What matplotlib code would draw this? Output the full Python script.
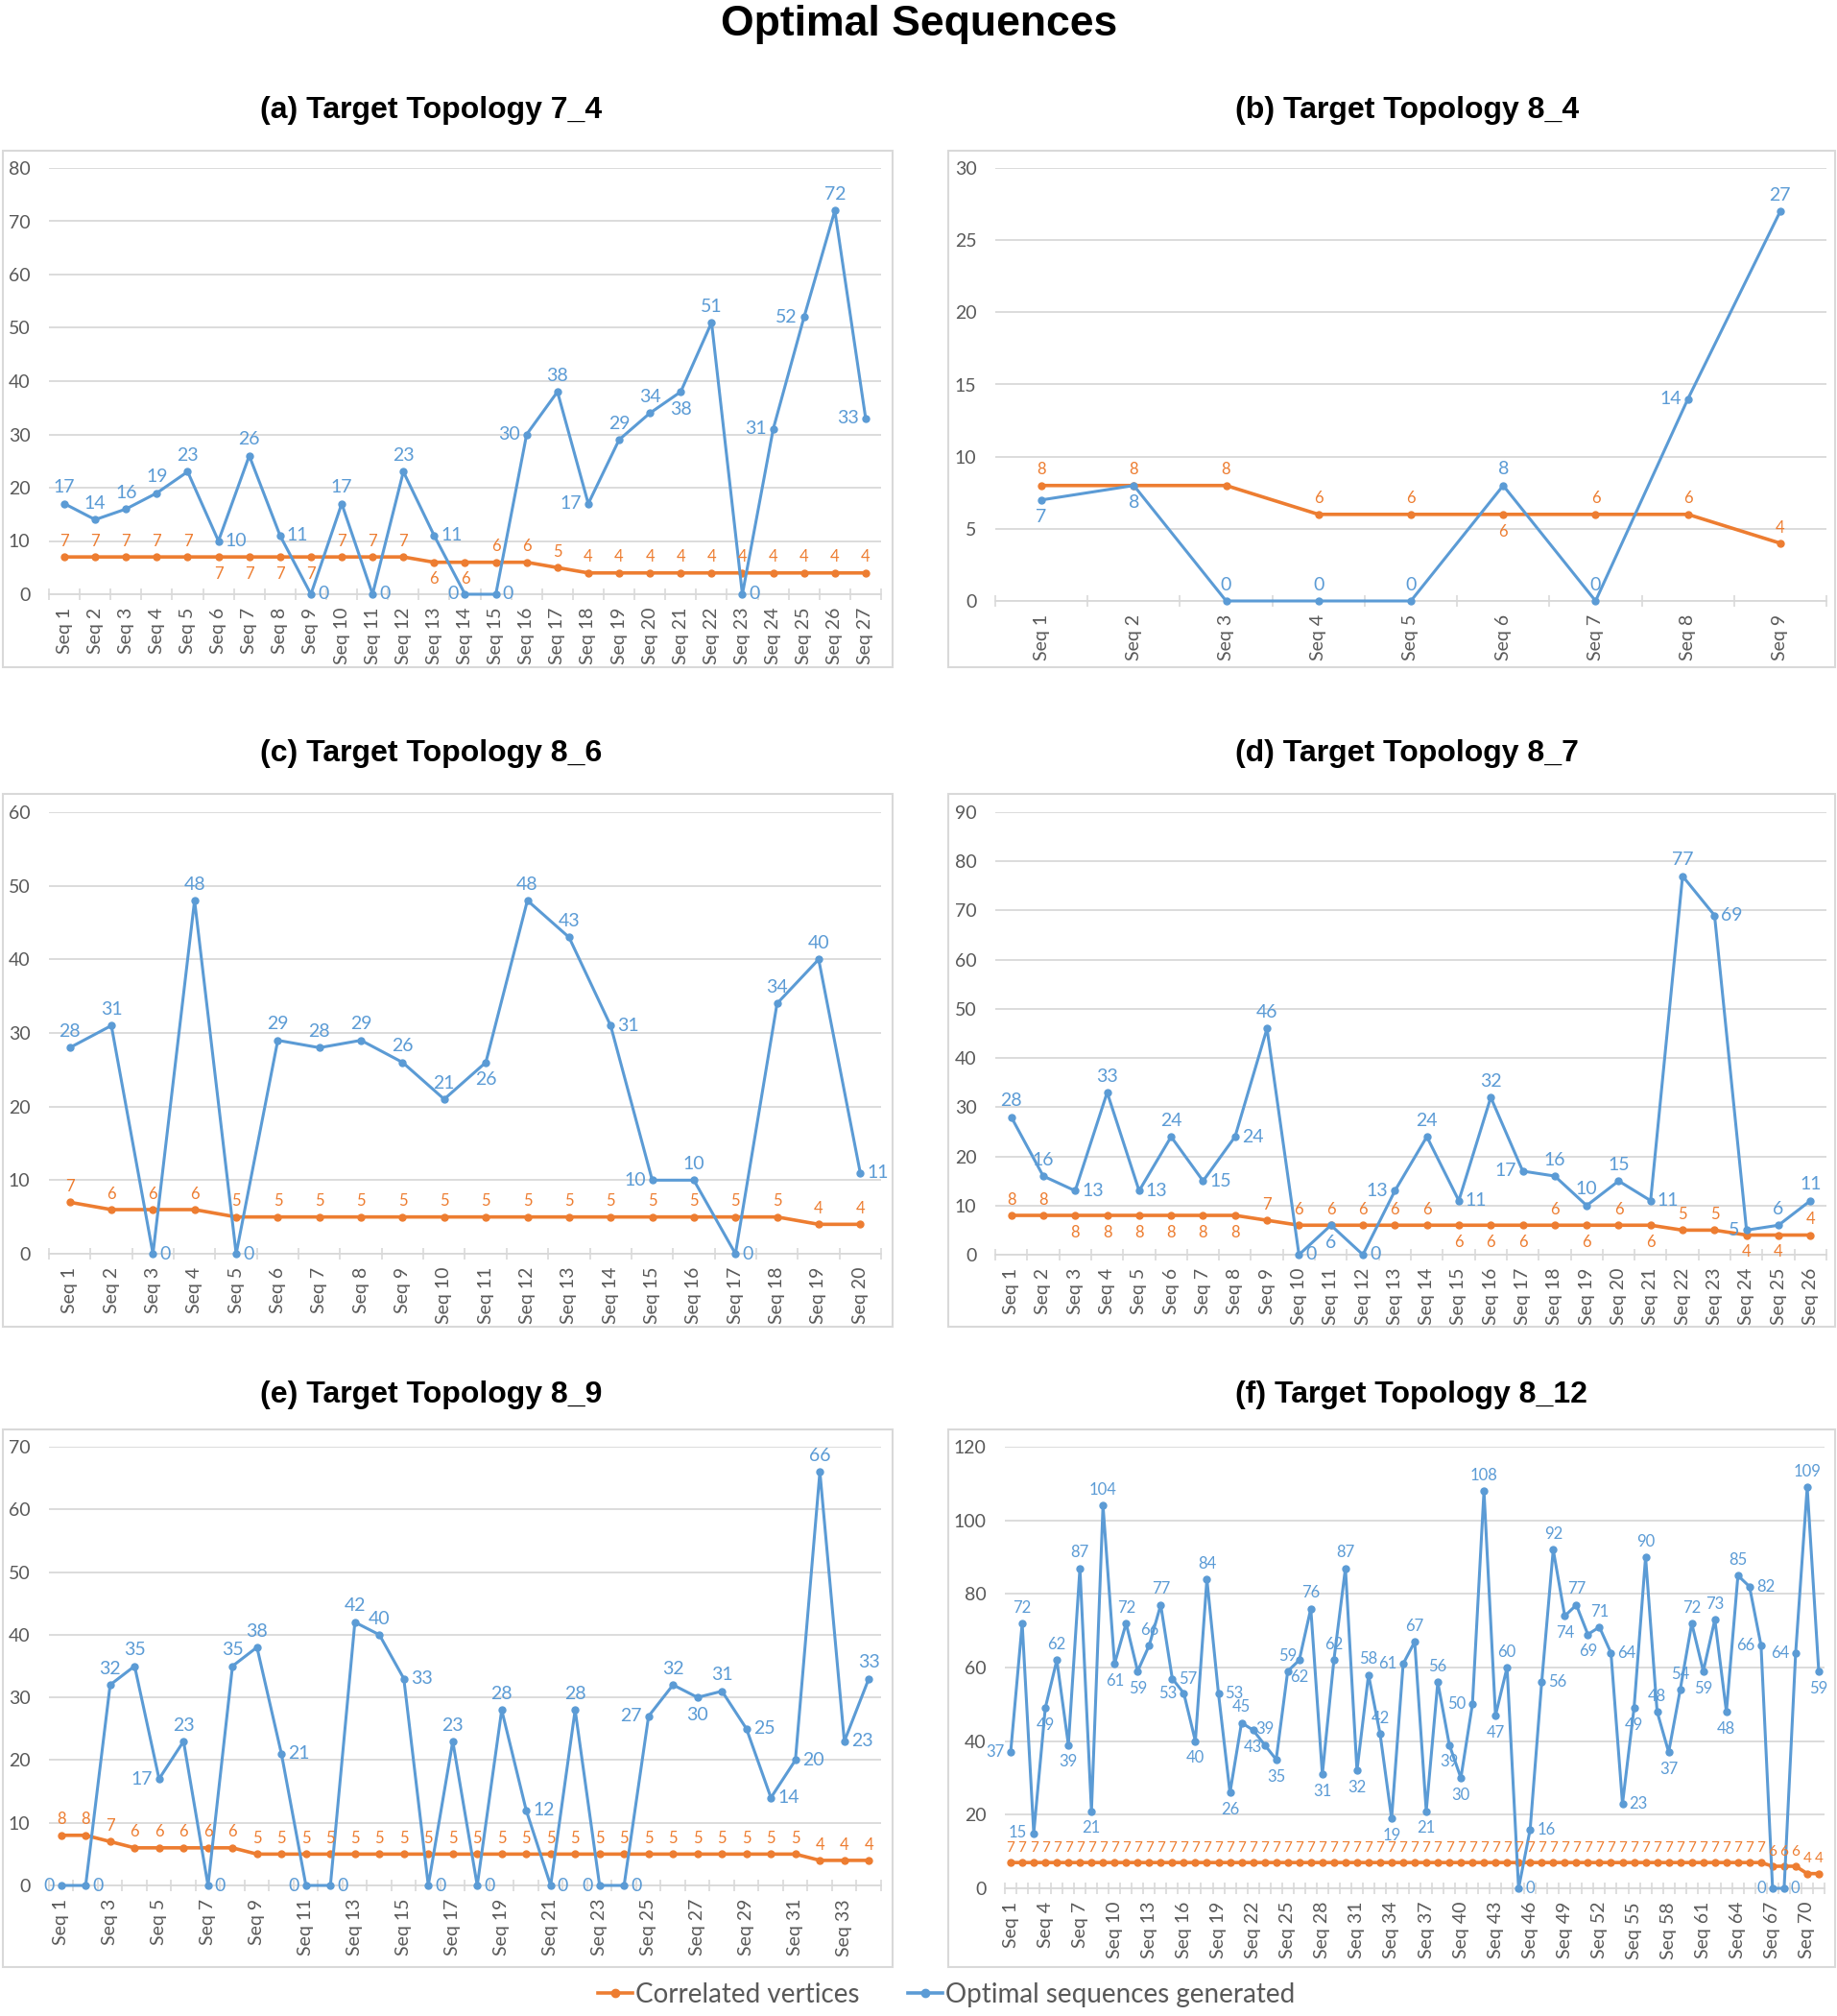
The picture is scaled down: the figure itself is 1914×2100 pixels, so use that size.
import matplotlib.pyplot as plt
from matplotlib.lines import Line2D
from matplotlib.patches import Rectangle

plt.rcParams['font.family'] = ['Lato', 'DejaVu Sans']

ORANGE = '#ED7D31'
BLUE = '#5B9BD5'
GRID = '#D9D9D9'
TXT = '#595959'

# (a) Target Topology 7_4
a_opt = [17, 14, 16, 19, 23, 10, 26, 11, 0, 17, 0, 23, 11, 0, 0, 30, 38, 17, 29, 34,
         38, 51, 0, 31, 52, 72, 33]
a_cor = [7, 7, 7, 7, 7, 7, 7, 7, 7, 7, 7, 7, 6, 6, 6, 6, 5, 4, 4, 4, 4, 4, 4, 4, 4, 4, 4]

# (b) Target Topology 8_4
b_opt = [7, 8, 0, 0, 0, 8, 0, 14, 27]
b_cor = [8, 8, 8, 6, 6, 6, 6, 6, 4]

# (c) Target Topology 8_6
c_opt = [28, 31, 0, 48, 0, 29, 28, 29, 26, 21, 26, 48, 43, 31, 10, 10, 0, 34, 40, 11]
c_cor = [7, 6, 6, 6, 5, 5, 5, 5, 5, 5, 5, 5, 5, 5, 5, 5, 5, 5, 4, 4]

# (d) Target Topology 8_7
d_opt = [28, 16, 13, 33, 13, 24, 15, 24, 46, 0, 6, 0, 13, 24, 11, 32, 17, 16, 10, 15,
         11, 77, 69, 5, 6, 11]
d_cor = [8, 8, 8, 8, 8, 8, 8, 8, 7, 6, 6, 6, 6, 6, 6, 6, 6, 6, 6, 6, 6, 5, 5, 4, 4, 4]

# (e) Target Topology 8_9
e_opt = [0, 0, 32, 35, 17, 23, 0, 35, 38, 21, 0, 0, 42, 40, 33, 0, 23, 0, 28, 12,
         0, 28, 0, 0, 27, 32, 30, 31, 25, 14, 20, 66, 23, 33]
e_cor = [8, 8, 7, 6, 6, 6, 6, 6, 5, 5, 5, 5, 5, 5, 5, 5, 5, 5, 5, 5,
         5, 5, 5, 5, 5, 5, 5, 5, 5, 5, 5, 4, 4, 4]

# (f) Target Topology 8_12
f_opt = [37, 72, 15, 49, 62, 39, 87, 21, 104, 61,
         72, 59, 66, 77, 57, 53, 40, 84, 53, 26,
         45, 43, 39, 35, 59, 62, 76, 31, 62, 87,
         32, 58, 42, 19, 61, 67, 21, 56, 39, 30,
         50, 108, 47, 60, 0, 16, 56, 92, 74, 77,
         69, 71, 64, 23, 49, 90, 48, 37, 54, 72,
         59, 73, 48, 85, 82, 66, 0, 0, 64, 109, 59]
f_cor = [7, 7, 7, 7, 7, 7, 7, 7, 7, 7,
         7, 7, 7, 7, 7, 7, 7, 7, 7, 7,
         7, 7, 7, 7, 7, 7, 7, 7, 7, 7,
         7, 7, 7, 7, 7, 7, 7, 7, 7, 7,
         7, 7, 7, 7, 7, 7, 7, 7, 7, 7,
         7, 7, 7, 7, 7, 7, 7, 7, 7, 7,
         7, 7, 7, 7, 7, 7, 6, 6, 6, 4, 4]

# label placement for the blue series (a=above, b=below, l=left, r=right)
a_pos = "aaaaararrararlrlalaabarllal"
b_pos = "bbaaaaala"
c_pos = "aararaaaaabaarlaraar"
d_pos = "aarararrarbrlaralaaararlaa"
e_pos = "lraalaraarlraarrararralrlabarrrara"
f_pos = ("lalbababab" "abaarlbarb" "ababababaa" "baablababb"
         "labarrraba" "barrbaabaa" "babarllrlab")

OFF = {'a': (0, 6, 'center', 'bottom'), 'b': (0, -7, 'center', 'top'),
       'l': (-5, 0, 'right', 'center'), 'r': (5, 0, 'left', 'center')}

W, H = 1915, 2100
fig = plt.figure(figsize=(W / 100, H / 100), dpi=100)


def px_axes(l, t, r, b):
    return fig.add_axes([l / W, 1 - b / H, (r - l) / W, (b - t) / H])


def panel(box, title, tx, ty, opt, cor, ymax, ystep, pos, cor_below, every,
          s_opt=14, s_cor=12):
    ax = px_axes(*box)
    n = len(opt)
    x = list(range(n))
    ax.plot(x, cor, color=ORANGE, lw=2.6, marker='o', ms=5, zorder=3, clip_on=False)
    ax.plot(x, opt, color=BLUE, lw=2.2, marker='o', ms=5, zorder=4, clip_on=False)

    for i, v in enumerate(opt):
        dx, dy, ha, va = OFF[pos[i]]
        ax.annotate(str(v), (i, v), xytext=(dx, dy), textcoords='offset points',
                    ha=ha, va=va, color=BLUE, fontsize=s_opt, zorder=5)
    for i, v in enumerate(cor):
        dx, dy, ha, va = OFF['b' if i in cor_below else 'a']
        ax.annotate(str(v), (i, v), xytext=(dx, dy), textcoords='offset points',
                    ha=ha, va=va, color=ORANGE, fontsize=s_cor, zorder=5)

    ax.set_xlim(-0.5, n - 0.5)
    ax.set_ylim(0, ymax)
    ax.set_yticks(range(0, ymax + 1, ystep))
    ticks = x[::every]
    ax.set_xticks(ticks)
    ax.set_xticklabels(['Seq %d' % (i + 1) for i in ticks], rotation=90)
    ax.set_xticks([k - 0.5 for k in range(n + 1)], minor=True)
    ax.tick_params(axis='x', which='major', length=0, pad=10, labelsize=14, labelcolor=TXT)
    ax.tick_params(axis='x', which='minor', length=9, width=1.2, direction='inout', color=GRID)
    ax.tick_params(axis='y', length=0, pad=14, labelsize=14, labelcolor=TXT)
    ax.grid(axis='y', color=GRID, lw=1.3)
    ax.set_axisbelow(True)
    for s in ('top', 'left', 'right'):
        ax.spines[s].set_visible(False)
    ax.spines['bottom'].set_color(GRID)
    ax.spines['bottom'].set_linewidth(1.3)
    fig.text(tx / W, 1 - ty / H, title, ha='center', va='center', fontsize=23,
             fontweight='bold', family='Liberation Sans')
    return ax


# chart area frames
for l, r in ((3, 930), (988, 1912)):
    for t, b in ((157, 695), (827, 1382), (1489, 2049)):
        fig.patches.append(Rectangle((l / W, 1 - b / H), (r - l) / W, (b - t) / H,
                                     transform=fig.transFigure, fill=False,
                                     edgecolor=GRID, lw=1.5))

panel((51, 175, 918, 619), '(a) Target Topology 7_4', 449, 115,
      a_opt, a_cor, 80, 10, a_pos, [5, 6, 7, 8, 12, 13], 1)
panel((1037, 175, 1903, 626), '(b) Target Topology 8_4', 1466, 115,
      b_opt, b_cor, 30, 5, b_pos, [5], 1)
panel((51, 846, 918, 1306), '(c) Target Topology 8_6', 449, 785,
      c_opt, c_cor, 60, 10, c_pos, [], 1)
panel((1037, 846, 1903, 1307), '(d) Target Topology 8_7', 1466, 785,
      d_opt, d_cor, 90, 10, d_pos, [2, 3, 4, 5, 6, 7, 14, 15, 16, 18, 20, 23, 24], 1)
panel((51, 1507, 918, 1964), '(e) Target Topology 8_9', 449, 1453,
      e_opt, e_cor, 70, 10, e_pos, [], 2)
panel((1047, 1507, 1901, 1967), '(f) Target Topology 8_12', 1470, 1453,
      f_opt, f_cor, 120, 20, f_pos, [], 3, s_opt=12, s_cor=11)

fig.text(0.5, 1 - 25 / H, 'Optimal Sequences', ha='center', va='center',
         fontsize=32, fontweight='bold', family='Liberation Sans')

handles = [Line2D([], [], color=ORANGE, lw=2.6, marker='o', ms=6, markevery=[1]),
           Line2D([], [], color=BLUE, lw=2.6, marker='o', ms=6, markevery=[1])]
for h in handles:
    h.set_xdata([0, 0.5, 1])
    h.set_ydata([0, 0, 0])
fig.legend(handles, ['Correlated vertices', 'Optimal sequences generated'],
           loc='center', bbox_to_anchor=(986 / W, 1 - 2078 / H), ncol=2, frameon=False,
           fontsize=20, labelcolor=TXT, handlelength=1.3, handletextpad=0.1,
           columnspacing=1.8)

fig.savefig('out.png', dpi=100)
